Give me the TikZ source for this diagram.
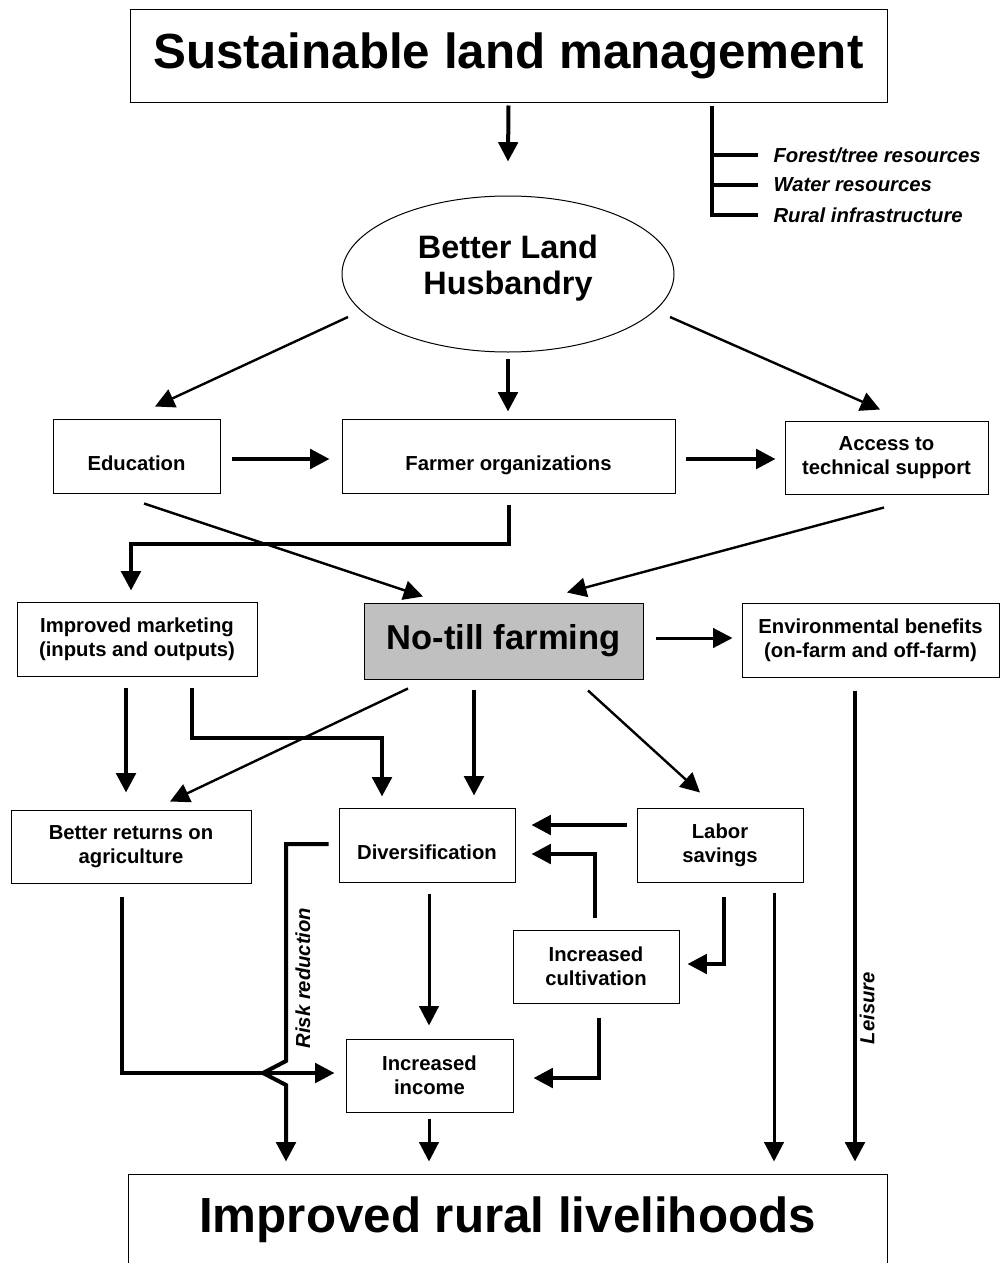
\documentclass[tikz,border=0pt]{standalone}
\usepackage{fontspec}
\setmainfont{Liberation Sans}
\usetikzlibrary{arrows.meta,shapes.geometric,calc}

\definecolor{ntgray}{RGB}{192,192,192}
\newcommand{\titlefont}{\fontsize{37}{44}\selectfont\bfseries}
\newcommand{\ellfont}{\fontsize{24.3}{27}\selectfont\bfseries}
\newcommand{\ntfont}{\fontsize{25.9}{30}\selectfont\bfseries}
\newcommand{\boxfont}{\fontsize{15.2}{18}\selectfont\bfseries}
\newcommand{\sidefont}{\fontsize{15.2}{18}\selectfont\bfseries\itshape}

\tikzset{every picture/.style={line width=0.75pt}}
\tikzset{
  sz/.style 2 args={minimum width=#1*0.75pt, minimum height=#2*0.75pt},
  box/.style={draw, inner sep=0pt, align=center, font=\boxfont},
  lowtext/.style={text height=22pt, text depth=0pt},
  side/.style={anchor=west, inner sep=0.75pt, font=\sidefont},
  lbl/.style={inner sep=0pt, font=\sidefont},
  tip/.style={-{Triangle[length=14.5pt,width=14.5pt]}},
  thk/.style={line width=3pt},
  mid/.style={line width=2.25pt},
  thn/.style={line width=1.8pt}
}

\begin{document}
\begin{tikzpicture}[x=0.75pt,y=0.75pt,yscale=-1,xscale=1]
\clip (0,0) rectangle (1000,1263);

%Shape: Rectangle
\node[box, sz={757}{92}, font=\titlefont] (slm) at (508.5,56) {Sustainable land management};
%Shape: Ellipse
\node[ellipse, draw, inner sep=0pt, sz={332}{156}, align=center, font=\ellfont, text depth=14pt] (blh) at (508,274) {Better Land\\Husbandry};
%Shape: Rectangle
\node[box, lowtext, sz={167}{74}] (edu) at (136.5,456) {Education};
\node[box, lowtext, sz={333}{74}] (farm) at (508.5,456) {Farmer organizations};
\node[box, sz={203}{73}] (acc) at (886.5,457.5) {Access to\\technical support};
\node[box, sz={240}{74}] (mkt) at (137,639) {Improved marketing\\(inputs and outputs)};
\node[box, sz={279}{76}, fill=ntgray, font=\ntfont] (ntf) at (503.5,641) {No-till farming};
\node[box, sz={257}{74}] (env) at (870.5,640) {Environmental benefits\\(on-farm and off-farm)};
\node[box, sz={240}{73}] (bret) at (131,846.5) {Better returns on\\agriculture};
\node[box, lowtext, sz={176}{74}] (div) at (427,845) {Diversification};
\node[box, sz={166}{74}] (lab) at (720,845) {Labor\\savings};
\node[box, sz={166}{73}] (icul) at (596,966.5) {Increased\\cultivation};
\node[box, sz={167}{73}] (iinc) at (429.5,1075.5) {Increased\\income};
\node[box, sz={759}{92}, font=\titlefont] (irl) at (507.5,1220) {Improved rural livelihoods};

% Text Node
\node[side] (forest) at (772,155) {Forest/tree resources};
\node[side] (water) at (772,185) {Water resources};
\node[side] (rural) at (772,215) {Rural infrastructure};
\node[lbl, rotate=90] (leis) at (867,1008) {Leisure};
\node[lbl, rotate=90] (risk) at (303,978) {Risk reduction};

%Straight Lines
\draw[thk] ($(slm.south west)+(582,3)$) |- ($(rural.west)+(-14,0)$);
\draw[thk] ($(forest.west)+(-60,0)$) -- ($(forest.west)+(-14,0)$);
\draw[thk] ($(water.west)+(-60,0)$) -- ($(water.west)+(-14,0)$);

\draw[thk,tip] ($(slm.south)+(0,3)$) -- ($(blh.north)+(0,-34)$);
\draw[thn,tip] ($(blh.center)+(-160,43)$) -- ($(edu.north)+(18.5,-12)$);
\draw[thk,tip] ($(blh.south)+(0,6)$) -- ($(farm.north)+(-0.5,-7)$);
\draw[thn,tip] ($(blh.center)+(162,43)$) -- ($(acc.north)+(-6.5,-11)$);

\draw[thk,tip] ($(edu.east)+(11,3)$) -- ($(farm.west)+(-12,3)$);
\draw[thk,tip] ($(farm.east)+(10,3)$) -- ($(acc.west)+(-9,1.5)$);
\draw[thn,tip] ($(edu.south)+(7.5,10)$) -- ($(ntf.north)+(-80.5,-6)$);
\draw[thk,tip] ($(farm.south)+(0,11)$) |- ($(mkt.north)+(-6,-58)$) -- ($(mkt.north)+(-6,-11)$);
\draw[thn,tip] ($(acc.south)+(-2.5,13)$) -- ($(ntf.north)+(63.5,-10)$);

\draw[mid,tip] ($(ntf.east)+(12,-3)$) -- ($(env.west)+(-9,-2)$);
\draw[thk,tip] ($(mkt.south)+(-11,11)$) -- ($(bret.north)+(-5,-17)$);
\draw[thk,tip] ($(mkt.south)+(55,11)$) |- ($(div.north)+(-45,-70)$) -- ($(div.north)+(-45,-11)$);
\draw[thn,tip] ($(ntf.south)+(-95.5,9)$) -- ($(bret.north)+(39,-8)$);
\draw[thk,tip] ($(ntf.south)+(-29.5,10)$) -- ($(div.north)+(47,-12)$);
\draw[thn,tip] ($(ntf.south)+(84.5,11)$) -- ($(lab.north)+(-20,-15)$);
\draw[thk,tip] ($(env.south)+(-15.5,13)$) -- ($(irl.north)+(347.5,-12)$);

\draw[thk,tip] ($(lab.west)+(-10,-20)$) -- ($(div.east)+(16,-20)$);
\draw[thk,tip] ($(icul.north)+(-1,-12)$) |- ($(div.east)+(16,9)$);
\draw[thk,tip] ($(lab.south)+(4,14)$) |- ($(icul.east)+(8,-2.5)$);
\draw[mid,tip] ($(lab.south)+(54,10)$) -- ($(irl.north)+(266.5,-12)$);
\draw[mid,tip] ($(div.south)+(2,11)$) -- ($(iinc.north)+(-0.5,-13)$);
\draw[thk,tip] ($(icul.south)+(3,14)$) |- ($(iinc.east)+(20,2.5)$);
\draw[thk,tip] ($(bret.south)+(-9,13)$) |- ($(iinc.west)+(-11,-2.5)$);

\coordinate (rj) at (263,1073);
\draw[thk] ($(div.west)+(-10,-1)$) -| ($(rj)+(23,-12)$) -- (rj);
\draw[thk,tip] (rj) -- ($(rj)+(23,12)$) -- ($(irl.north)+(-221.5,-12)$);
\draw[mid,tip] ($(iinc.south)+(-0.5,6)$) -- ($(irl.north)+(-78.5,-12)$);

\end{tikzpicture}
\end{document}
